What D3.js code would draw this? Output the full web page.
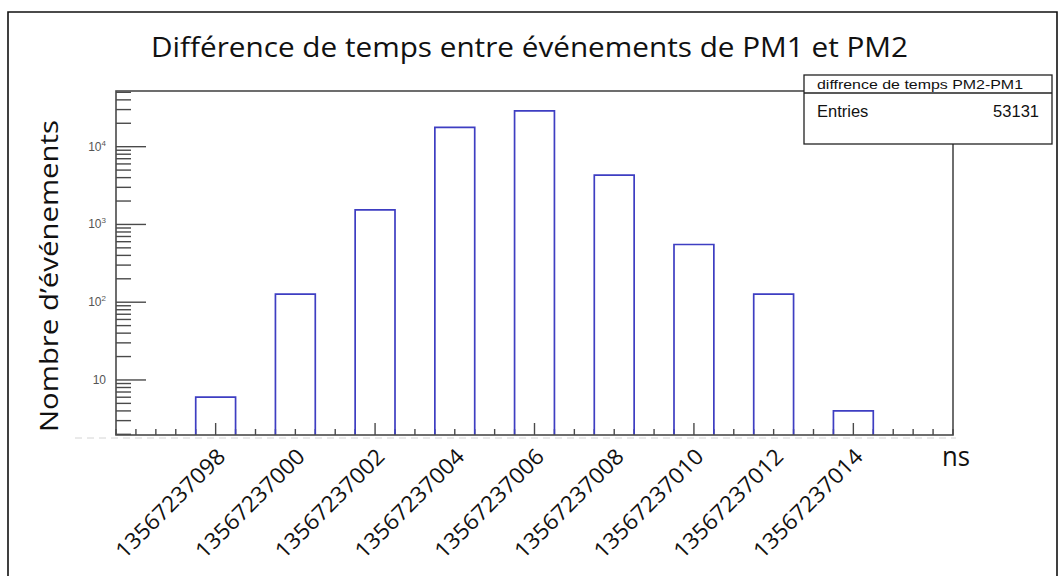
<!DOCTYPE html>
<html>
<head>
<meta charset="utf-8">
<script src="https://cdn.jsdelivr.net/npm/d3@7"></script>
<style>
  body { margin: 0; background: #fff; }
  svg { display: block; }
</style>
</head>
<body>
<svg id="chart" width="1061" height="576"></svg>
<script>
// Histogram of PM2 - PM1 time differences (1 ns bins, every other bin empty)
const binLabels = ["13567237098", "13567237000", "13567237002", "13567237004", "13567237006",
                   "13567237008", "13567237010", "13567237012", "13567237014"];
const binOffsets = [0, 2, 4, 6, 8, 10, 12, 14, 16];          // ns from first filled bin
const binCounts  = [6, 127, 1540, 17700, 28800, 4300, 552, 127, 4];
const yTickValues = [10, 100, 1000, 10000];
const yTickBase   = ["10", "10", "10", "10"];
const yTickExp    = ["", "2", "3", "4"];
const titleText = "Différence de temps entre événements de PM1 et PM2";
const yAxisTitle = "Nombre d’événements";
const xAxisUnit = "ns";
const statsName = "diffrence de temps PM2-PM1";
const statsEntries = 53131;

const svg = d3.select("#chart");
const W = 1061, H = 576;
const plot = { left: 116, right: 953, top: 91, bottom: 435 };
const axisColor = "#4a4a4a";
const histColor = "#3e3ec2";
const roundFont = "'Open Sans', 'Noto Sans', sans-serif";
const rootFont = "'Liberation Sans', Arial, sans-serif";

svg.append("rect").attr("width", W).attr("height", H).attr("fill", "#fff");

// outer frame of the canvas
svg.append("path")
  .attr("d", `M8,576 V12 H1057 V576`)
  .attr("fill", "none").attr("stroke", "#111").attr("stroke-width", 1.6);

// scales
const x = d3.scaleLinear().domain([-2.5, 18.5]).range([plot.left, plot.right]);
const y = d3.scaleLog().domain([1.96, 52000]).range([plot.bottom, plot.top]);

// faint dashed remnant under the x axis
svg.append("line")
  .attr("x1", 75).attr("x2", 956).attr("y1", plot.bottom + 3).attr("y2", plot.bottom + 3)
  .attr("stroke", "#d4d4d4").attr("stroke-width", 1).attr("stroke-dasharray", "7,5");

// y ticks (log): majors at decades, minors at 2..9 x decade
const [yMin, yMax] = y.domain();
const minorTicks = [];
for (let e = 0; e <= 4; e++) {
  for (let m = 2; m <= 9; m++) {
    const v = m * Math.pow(10, e);
    if (v >= yMin && v <= yMax) minorTicks.push(v);
  }
}
const yTickG = svg.append("g").attr("stroke", axisColor).attr("stroke-width", 1.4);
yTickG.selectAll("line.minor").data(minorTicks).join("line")
  .attr("class", "minor")
  .attr("x1", plot.left).attr("x2", plot.left + 15)
  .attr("y1", d => y(d)).attr("y2", d => y(d));
yTickG.selectAll("line.major").data(yTickValues).join("line")
  .attr("class", "major")
  .attr("x1", plot.left).attr("x2", plot.left + 30)
  .attr("y1", d => y(d)).attr("y2", d => y(d));

// y tick labels
const yLab = svg.append("g")
  .attr("font-family", rootFont).attr("font-size", 12).attr("fill", "#555");
yTickValues.forEach((v, i) => {
  const t = yLab.append("text")
    .attr("x", plot.left - 10).attr("y", y(v) + 4)
    .attr("text-anchor", "end");
  t.append("tspan").text(yTickBase[i]);
  if (yTickExp[i]) {
    t.append("tspan").attr("font-size", 8).attr("dy", -5).text(yTickExp[i]);
  }
});

// x ticks every half ns, longer every 4 ns
const xTicks = d3.range(-2.5, 18.51, 0.5);
svg.append("g").attr("stroke", axisColor).attr("stroke-width", 1.4)
  .selectAll("line").data(xTicks).join("line")
  .attr("x1", d => x(d)).attr("x2", d => x(d))
  .attr("y1", plot.bottom)
  .attr("y2", d => plot.bottom - (Math.abs(d % 4) < 1e-9 ? 12 : 6));

// histogram outline
svg.append("g").selectAll("path").data(binOffsets).join("path")
  .attr("d", (o, i) => `M${x(o - 0.5)},${plot.bottom} V${y(binCounts[i])} H${x(o + 0.5)} V${plot.bottom}`)
  .attr("fill", "none").attr("stroke", histColor).attr("stroke-width", 1.7);

// plot frame
svg.append("rect")
  .attr("x", plot.left).attr("y", plot.top)
  .attr("width", plot.right - plot.left).attr("height", plot.bottom - plot.top)
  .attr("fill", "none").attr("stroke", axisColor).attr("stroke-width", 1.6);

// x tick labels, rotated
svg.append("g").attr("font-family", roundFont).attr("font-size", 22).attr("fill", "#111")
  .selectAll("text").data(binOffsets).join("text")
  .attr("transform", o => `translate(${x(o) + 11},${plot.bottom + 23}) rotate(-45)`)
  .attr("text-anchor", "end")
  .attr("textLength", 144).attr("lengthAdjust", "spacingAndGlyphs")
  .text((o, i) => binLabels[i]);

// axis unit
svg.append("text")
  .attr("x", 942).attr("y", 466)
  .attr("font-family", roundFont).attr("font-size", 27).attr("fill", "#111")
  .attr("textLength", 28).attr("lengthAdjust", "spacingAndGlyphs")
  .text(xAxisUnit);

// y axis title
svg.append("text")
  .attr("transform", `translate(58,276) rotate(-90)`)
  .attr("text-anchor", "middle")
  .attr("font-family", roundFont).attr("font-size", 26).attr("fill", "#111")
  .attr("textLength", 312).attr("lengthAdjust", "spacingAndGlyphs")
  .text(yAxisTitle);

// title
svg.append("text")
  .attr("x", 529.5).attr("y", 57)
  .attr("text-anchor", "middle")
  .attr("font-family", roundFont).attr("font-size", 28).attr("fill", "#111")
  .attr("textLength", 757).attr("lengthAdjust", "spacingAndGlyphs")
  .text(titleText);

// statistics box
const sb = svg.append("g");
sb.append("rect").attr("x", 804).attr("y", 75).attr("width", 248).attr("height", 69)
  .attr("fill", "#fff").attr("stroke", "#222").attr("stroke-width", 1.3);
sb.append("line").attr("x1", 804).attr("x2", 1052).attr("y1", 93).attr("y2", 93)
  .attr("stroke", "#222").attr("stroke-width", 1.3);
sb.append("text").attr("x", 817).attr("y", 88.5)
  .attr("font-family", rootFont).attr("font-size", 12.5).attr("fill", "#111")
  .attr("textLength", 206).attr("lengthAdjust", "spacingAndGlyphs")
  .text(statsName);
sb.append("text").attr("x", 817).attr("y", 117)
  .attr("font-family", rootFont).attr("font-size", 16.5).attr("fill", "#111")
  .text("Entries");
sb.append("text").attr("x", 1039).attr("y", 117).attr("text-anchor", "end")
  .attr("font-family", rootFont).attr("font-size", 16.5).attr("fill", "#111")
  .text(statsEntries);
</script>
</body>
</html>
